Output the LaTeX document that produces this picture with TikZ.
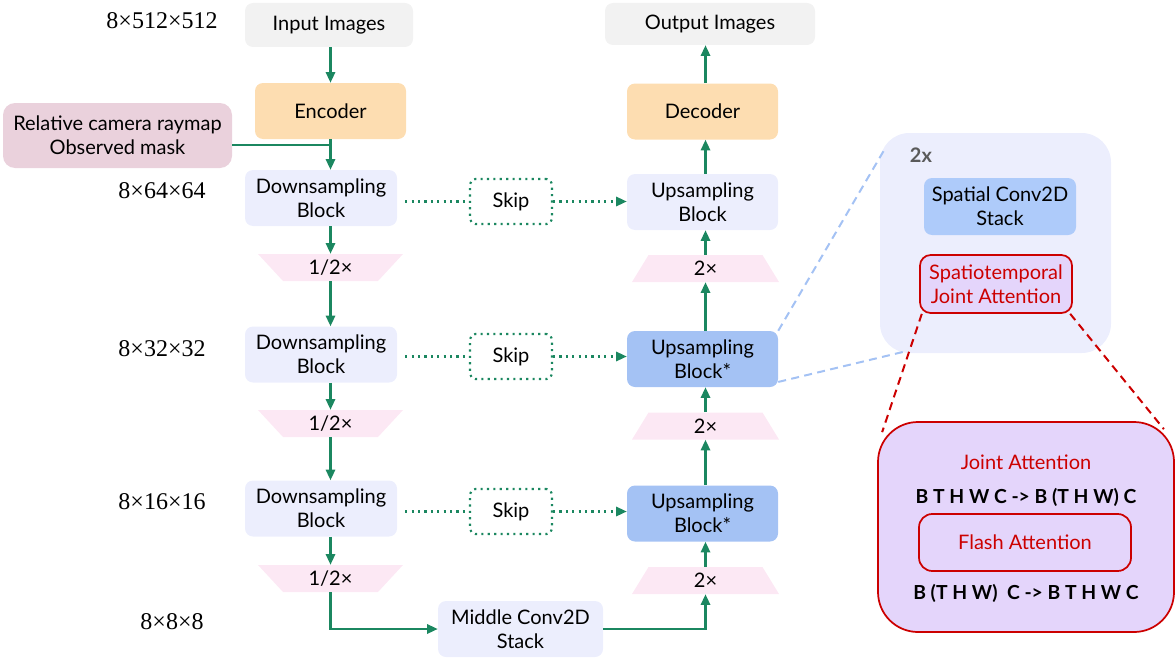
\documentclass[tikz,border=0pt]{standalone}
\usepackage{fontspec}
\setmainfont{Lato}
\newfontfamily\dimfont{Liberation Serif}
\usetikzlibrary{arrows.meta,calc}
\definecolor{grn}{HTML}{1B8760}
\definecolor{orangef}{HTML}{FDDDB1}
\definecolor{lavf}{HTML}{ECEEFD}
\definecolor{bluef}{HTML}{A4C2F4}
\definecolor{spatf}{HTML}{AECBFA}
\definecolor{pinkf}{HTML}{FCE8F4}
\definecolor{rayf}{HTML}{EAD1DC}
\definecolor{grayf}{HTML}{F2F2F2}
\definecolor{purf}{HTML}{E4D5FB}
\definecolor{redc}{HTML}{CC0000}
\definecolor{dashblue}{HTML}{A4C2F4}
\definecolor{twogray}{HTML}{5A5A5A}
\tikzset{
  txt/.style={font=\fontsize{15}{18}\selectfont, align=center},
  box/.style={txt, rounded corners=6pt, inner sep=0pt},
  dimlabel/.style={font=\dimfont\fontsize{18}{20}\selectfont, inner sep=0pt},
  arr/.style={draw=grn, line width=1.6pt, -{Triangle[length=8pt,width=7pt]}},
  plainline/.style={draw=grn, line width=1.6pt},
  dotline/.style={draw=grn, line width=1.6pt, dash pattern=on 1.6pt off 3.2pt},
  dotarr/.style={dotline, -{Triangle[length=8pt,width=7pt]}},
  skipbox/.style={box, rounded corners=4pt, draw=grn, line width=1.6pt, dash pattern=on 1.6pt off 3.2pt, minimum width=61.5pt, minimum height=33.75pt},
  downtrap/.style={txt, inner sep=0pt, minimum width=108.75pt, minimum height=20.25pt,
    path picture={\fill[pinkf] (path picture bounding box.north west) -- (path picture bounding box.north east) -- ([xshift=-18.75pt]path picture bounding box.south east) -- ([xshift=18.75pt]path picture bounding box.south west) -- cycle;}},
  uptrap/.style={txt, inner sep=0pt, minimum width=110.25pt, minimum height=20.25pt,
    path picture={\fill[pinkf] ([xshift=12.4pt]path picture bounding box.north west) -- ([xshift=-12.4pt]path picture bounding box.north east) -- (path picture bounding box.south east) -- (path picture bounding box.south west) -- cycle;}},
  blkw/.style={box, minimum width=114pt, minimum height=42pt},
  upw/.style={box, minimum width=113.25pt, minimum height=42pt},
  bluedash/.style={draw=dashblue, line width=1.5pt, dash pattern=on 6pt off 4pt},
  reddash/.style={draw=redc, line width=1.5pt, dash pattern=on 6pt off 4pt},
  boldtxt/.style={font=\bfseries\fontsize{14.5}{18}\selectfont, inner sep=0pt}
}
\begin{document}
\begin{tikzpicture}[x=0.75pt,y=-0.75pt]
\useasboundingbox (0,0) rectangle (1176,660);
% dimension labels
\node[dimlabel] (d1) at (162,21) {8×512×512};
\node[dimlabel] (d2) at (162,191) {8×64×64};
\node[dimlabel] (d3) at (162,349) {8×32×32};
\node[dimlabel] (d4) at (162,502) {8×16×16};
\node[dimlabel] (d5) at (172,622) {8×8×8};
% left column
\node[box, fill=grayf, minimum width=126pt, minimum height=33pt] (inp) at (329,25) {Input Images};
\node[box, fill=orangef, minimum width=113.25pt, minimum height=42pt] (enc) at (330.5,111) {Encoder};
\node[box, fill=rayf, rounded corners=9pt, minimum width=171.75pt, minimum height=48.75pt] (ray) at (117.5,135.5) {Relative camera raymap\\Observed mask};
\node[blkw, fill=lavf] (ds1) at (321,198) {Downsampling\\Block};
\node[downtrap] (h1) at (330.5,267.5) {1/2×};
\node[blkw, fill=lavf] (ds2) at (321,354.5) {Downsampling\\Block};
\node[downtrap] (h2) at (330.5,423.5) {1/2×};
\node[blkw, fill=lavf] (ds3) at (321,508.5) {Downsampling\\Block};
\node[downtrap] (h3) at (330.5,578.5) {1/2×};
\node[box, fill=lavf, minimum width=123.75pt, minimum height=42pt] (mid) at (520.5,629) {Middle Conv2D\\Stack};
% skips
\node[skipbox] (sk1) at (511,201.5) {Skip};
\node[skipbox] (sk2) at (511,356.5) {Skip};
\node[skipbox] (sk3) at (511,511.5) {Skip};
% right column
\node[box, fill=grayf, minimum width=157.5pt, minimum height=31.5pt] (out) at (710,24) {Output Images};
\node[upw, fill=orangef] (dec) at (702.5,111.5) {Decoder};
\node[upw, fill=lavf] (up1) at (702.5,202) {Upsampling\\Block};
\node[uptrap] (u1) at (705.5,268.5) {2×};
\node[upw, fill=bluef] (up2) at (702.5,359) {Upsampling\\Block*};
\node[uptrap] (u2) at (705.5,426) {2×};
\node[upw, fill=bluef] (up3) at (702.5,513.5) {Upsampling\\Block*};
\node[uptrap] (u3) at (705.5,580.5) {2×};
% connectors left
\coordinate (j) at (330.5,145);
\draw[arr] (inp.south -| enc.north) -- (enc.north);
\draw[arr] (enc.south) -- (enc.south |- ds1.north);
\draw[plainline] (ray.east |- j) -- (j);
\draw[arr] (h1.north |- ds1.south) -- (h1.north);
\draw[arr] (h1.south) -- (h1.south |- ds2.north);
\draw[arr] (h2.north |- ds2.south) -- (h2.north);
\draw[arr] (h2.south) -- (h2.south |- ds3.north);
\draw[arr] (h3.north |- ds3.south) -- (h3.north);
\draw[arr] (h3.south) |- (mid.west);
\draw[arr] (mid.east) -| (u3.south);
% connectors right
\draw[arr] (u3.north) -- (u3.north |- up3.south);
\draw[arr] (u2.south |- up3.north) -- (u2.south);
\draw[arr] (u2.north) -- (u2.north |- up2.south);
\draw[arr] (u1.south |- up2.north) -- (u1.south);
\draw[arr] (u1.north) -- (u1.north |- up1.south);
\draw[arr] (u1.north |- up1.north) -- (u1.north |- dec.south);
\draw[arr] (u1.north |- dec.north) -- (u1.north |- out.south);
% skip lines
\draw[dotline] ([xshift=6pt]ds1.east |- sk1.west) -- (sk1.west);
\draw[dotarr] (sk1.east) -- (sk1.east -| up1.west);
\draw[dotline] ([xshift=6pt]ds2.east |- sk2.west) -- (sk2.west);
\draw[dotarr] (sk2.east) -- (sk2.east -| up2.west);
\draw[dotline] ([xshift=6pt]ds3.east |- sk3.west) -- (sk3.west);
\draw[dotarr] (sk3.east) -- (sk3.east -| up3.west);
% right panel
\node[fill=lavf, rounded corners=22pt, minimum width=173.25pt, minimum height=165pt, inner sep=0pt] (cont) at (995.5,243) {};
\node[font=\bfseries\fontsize{15}{18}\selectfont, text=twogray, inner sep=0pt] (twox) at (921,155) {2x};
\node[box, fill=spatf, minimum width=114pt, minimum height=42.75pt] (spat) at (1000,206.5) {Spatial Conv2D\\Stack};
\node[box, fill=purf, draw=redc, line width=1.3pt, text=redc, rounded corners=8pt, minimum width=114pt, minimum height=43.5pt] (sta) at (996,284) {Spatiotemporal\\Joint Attention};
\node[fill=purf, draw=redc, line width=1.3pt, rounded corners=30pt, minimum width=222pt, minimum height=157.5pt, inner sep=0pt] (ja) at (1026,527) {};
\node[txt, text=redc, inner sep=0pt] (jat) at (1026,462) {Joint Attention};
\node[boldtxt] (eq1) at (1026,497) {B T H W C -> B (T H W) C};
\node[box, draw=redc, line width=1.3pt, text=redc, rounded corners=10pt, minimum width=159pt, minimum height=42.75pt] (flash) at (1025,542.5) {Flash Attention};
\node[boldtxt] (eq2) at (1026,593) {B (T H W)\ \ C -> B T H W C};
% dashed zoom lines
\draw[bluedash] (up2.north east) -- ($(cont.north west)+(4,18)$);
\draw[bluedash] ([yshift=4pt]up2.south east) -- ($(cont.south west)+(26,-2)$);
\draw[reddash] ([xshift=2pt]sta.south west) -- ($(ja.north west)+(5,11)$);
\draw[reddash] ([xshift=-2pt]sta.south east) -- ($(ja.north east)+(-11,8)$);
\end{tikzpicture}
\end{document}
